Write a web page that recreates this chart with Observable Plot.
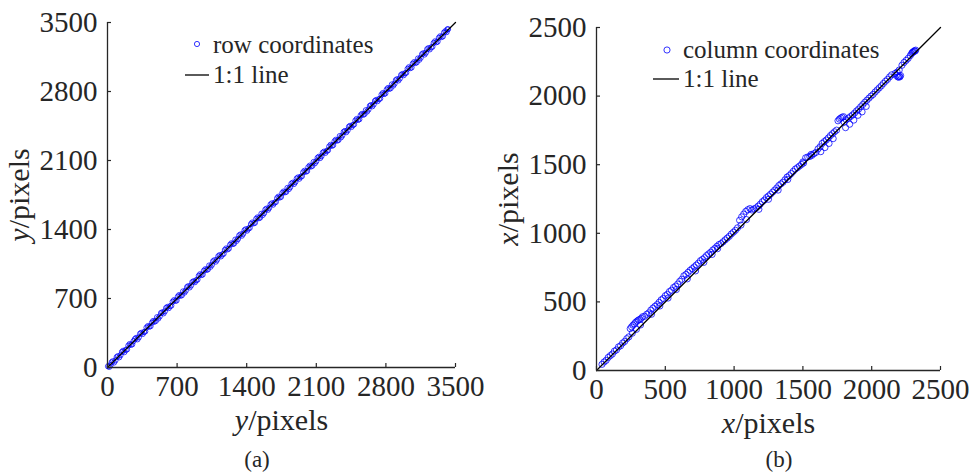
<!DOCTYPE html>
<html><head><meta charset="utf-8">
<script src="https://cdn.jsdelivr.net/npm/d3@7"></script>
<script src="https://cdn.jsdelivr.net/npm/@observablehq/plot@0.6"></script>
<style>
body{margin:0;background:#fff;}
#wrap{position:relative;width:970px;height:474px;font-family:"Liberation Serif","Times New Roman",serif;color:#262626;overflow:hidden;}
.cap{position:absolute;top:445px;font-size:23px;line-height:30px;transform:translateX(-50%);white-space:nowrap;}
</style></head><body>
<div id="wrap"></div>
<script>
// ---------- Panel (a): row coordinates ----------
const ticksA = [0, 700, 1400, 2100, 2800, 3500];
const lineA = [0, 3500];
const rowRef = [5,30,52,80,104,131,158,183,210,236,262,289,315,340,368,392,420,447,471,498,525,551,577,603,630,655,683,708,735,760,787,812,840,866,892,918,945,970,997,1023,1050,1075,1102,1128,1155,1180,1207,1233,1260,1286,1312,1338,1365,1390,1417,1443,1470,1496,1522,1548,1575,1600,1627,1653,1680,1706,1732,1758,1785,1810,1837,1863,1890,1916,1942,1968,1995,2020,2047,2073,2100,2126,2152,2178,2205,2230,2257,2283,2310,2336,2362,2388,2415,2440,2467,2493,2520,2546,2572,2598,2625,2650,2677,2703,2730,2756,2782,2808,2835,2860,2887,2913,2940,2966,2992,3018,3045,3070,3097,3123,3150,3176,3202,3228,3255,3280,3307,3333,3360,3385,3410,3425];
const rowMeas = [12,24,63,72,115,125,170,178,222,230,268,301,306,352,360,405,414,455,464,510,518,560,570,615,622,667,676,720,728,772,779,825,832,875,885,930,938,982,990,1035,1042,1088,1094,1140,1147,1192,1198,1245,1252,1298,1304,1350,1357,1402,1409,1455,1462,1508,1514,1560,1566,1612,1620,1665,1672,1718,1724,1770,1777,1822,1829,1875,1882,1928,1934,1980,1986,2032,2039,2085,2092,2138,2144,2190,2197,2242,2249,2295,2302,2348,2354,2400,2406,2452,2459,2505,2512,2558,2564,2610,2617,2662,2669,2715,2722,2768,2774,2820,2827,2872,2879,2925,2932,2978,2984,3030,3037,3082,3089,3135,3142,3188,3194,3240,3247,3292,3299,3345,3352,3398,3402,3432];
const rowRef2 = [18,42,66,92,118,145,170,197,223,249,276,302,328,354,380,406,433,459,485,511,538,564,590,616,642,669,695,721,748,774,800,826,853,879,905,931,957,984,1010,1036,1062,1089,1115,1141,1168,1194,1220,1246,1273,1299,1325,1351,1378,1404,1430,1456,1483,1509,1535,1561,1588,1614,1640,1666,1693,1719,1745,1771,1798,1824,1850,1876,1903,1929,1955,1981,2008,2034,2060,2086,2113,2139,2165,2191,2218,2244,2270,2296,2323,2349,2375,2401,2428,2454,2480,2506,2533,2559,2585,2611,2638,2664,2690,2716,2743,2769,2795,2821,2848,2874,2900,2926,2953,2979,3005,3031,3058,3084,3110,3136,3163,3189,3215,3241,3268,3294,3320,3346,3373,3398,3418];
const rowMeas2 = [6,53,50,105,103,158,156,184,238,235,289,286,343,340,366,420,419,472,471,497,552,549,604,602,628,683,680,735,733,760,815,812,866,865,891,946,943,997,996,1022,1077,1074,1129,1127,1154,1208,1206,1260,1258,1285,1340,1337,1392,1389,1416,1471,1468,1523,1521,1547,1602,1600,1654,1652,1679,1733,1731,1785,1783,1810,1865,1862,1917,1915,1941,1996,1993,2048,2046,2072,2127,2125,2179,2177,2204,2259,2256,2310,2308,2335,2390,2387,2442,2440,2466,2521,2518,2573,2571,2597,2653,2650,2704,2702,2729,2784,2781,2835,2833,2860,2915,2912,2967,2965,2991,3046,3043,3098,3096,3122,3178,3175,3229,3227,3254,3309,3306,3360,3359,3412,3430];

// ---------- Panel (b): column coordinates ----------
const ticksB = [0, 500, 1000, 1500, 2000, 2500];
const lineB = [0, 2500];
const colRef = [40,55,70,85,100,115,130,145,160,175,190,205,220,235,
  245,255,265,275,285,295,305,315,325,335,260,290,320,
  350,365,380,395,410,425,440,455,470,485,500,515,530,545,560,575,590,605,620,400,460,520,580,
  635,650,665,680,695,710,725,740,755,770,785,800,815,830,845,860,875,890,660,720,780,840,880,
  905,920,935,950,965,980,995,1010,1025,
  1040,1055,1070,1085,1100,1115,1050,1090,
  1130,1145,1160,1175,1190,1205,1220,1235,1250,1265,1280,1295,1310,1325,1340,1355,1370,1385,1400,1415,1430,1445,1180,1250,1320,1390,
  1460,1475,1490,1505,1520,1535,1550,1565,1580,1595,1500,1560,
  1610,1625,1640,1655,1670,1685,1700,1715,1730,1745,1630,1660,1690,1720,
  1755,1765,1775,1785,1795,
  1800,1815,1830,1845,1860,1875,1890,1905,1920,1935,1950,1965,1980,1995,2010,2025,2040,2055,2070,2085,2100,2115,2130,2145,1810,1840,1870,1900,1930,1960,
  2170,2180,2190,2195,2200,2205,2210,2185,2200,
  2220,2235,2250,2265,2280,2290,2295,2300,2305,2310,2315,2320];
const colMeas = [45,62,74,95,108,120,141,150,172,180,200,212,232,245,
  305,318,330,340,352,360,368,372,380,392,272,300,332,
  395,410,420,440,455,468,480,497,515,525,545,555,575,585,605,615,630,650,665,410,470,528,590,
  690,700,715,730,742,755,768,782,800,810,822,838,850,862,878,890,905,918,668,726,788,846,888,
  925,938,952,965,978,995,1008,1022,1040,
  1095,1120,1140,1160,1172,1180,1060,1100,
  1170,1178,1185,1198,1212,1230,1242,1260,1272,1285,1300,1315,1330,1348,1360,1372,1390,1410,1420,1435,1452,1468,1175,1248,1315,1392,
  1478,1490,1502,1512,1550,1556,1560,1568,1580,1590,1520,1575,
  1615,1630,1655,1668,1680,1695,1712,1726,1740,1752,1595,1625,1655,1690,
  1820,1832,1840,1846,1850,
  1810,1828,1840,1850,1862,1876,1892,1905,1922,1938,1955,1970,1985,2000,2012,2030,2045,2060,2075,2092,2108,2122,2140,2155,1770,1795,1825,1860,1885,1925,
  2165,2150,2140,2138,2145,2140,2150,2175,2190,
  2225,2245,2260,2275,2295,2310,2318,2320,2325,2330,2328,2335];

const INK = "#262626";
const FONT = '"Liberation Serif","Times New Roman",serif';

function panel({sets, ticks, line, left, mL, mR, mT, mB, W, H, varName, legendText, leg, r}) {
  const pts = sets.flatMap(([ref, meas]) => ref.map((v, i) => ({x: v, y: meas[i]})));
  const oneToOne = line.map(v => ({x: v, y: v}));
  const innerW = W - mL - mR, innerH = H - mT - mB;
  const dom = [line[0], line[1]];
  const fmt = d => String(d);
  const svg = Plot.plot({
    width: W, height: H,
    marginLeft: mL, marginRight: mR, marginTop: mT, marginBottom: mB,
    style: {fontFamily: FONT, fontSize: "29px", color: INK, background: "transparent", overflow: "visible"},
    x: {domain: dom},
    y: {domain: dom},
    marks: [
      Plot.dot(pts, {x: "x", y: "y", r, stroke: "#0000ff", strokeWidth: 0.85, strokeOpacity: 0.9, fill: "none"}),
      Plot.line(oneToOne, {x: "x", y: "y", stroke: "#000", strokeWidth: 1.3}),
      Plot.ruleX([line[0]], {stroke: INK, strokeWidth: 1.3}),
      Plot.ruleY([line[0]], {stroke: INK, strokeWidth: 1.3}),
      Plot.tickX(ticks, {x: d => d, insetTop: innerH - 4, stroke: INK, strokeWidth: 1.2}),
      Plot.tickY(ticks, {y: d => d, insetRight: innerW - 4, stroke: INK, strokeWidth: 1.2}),
      Plot.axisX({ticks, tickSize: 0, tickPadding: 8, tickFormat: fmt, label: varName + "/pixels", labelAnchor: "center", labelArrow: "none", labelOffset: 62}),
      Plot.axisY({ticks, tickSize: 0, tickPadding: 10, tickFormat: fmt, label: varName + "/pixels", labelAnchor: "center", labelArrow: "none", labelOffset: 100})
    ]
  });
  svg.style.position = "absolute";
  svg.style.left = left + "px";
  svg.style.top = "0px";
  const s = d3.select(svg);
  s.selectAll('g[aria-label$="axis label"] text').each(function() {
    const t = d3.select(this);
    t.text(null).attr("font-size", 30);
    t.append("tspan").attr("font-style", "italic").text(varName);
    t.append("tspan").text("/pixels");
  });
  // legend
  const g = s.append("g").attr("font-family", FONT).attr("font-size", 25).attr("fill", INK).attr("text-anchor", "start");
  g.append("circle").attr("cx", leg.cx).attr("cy", leg.cy).attr("r", r).attr("fill", "none").attr("stroke", "#0000ff").attr("stroke-width", 0.8);
  g.append("text").attr("x", leg.tx).attr("y", leg.b1).attr("text-anchor", "start").text(legendText);
  g.append("line").attr("x1", leg.lx1).attr("x2", leg.lx2).attr("y1", leg.ly).attr("y2", leg.ly).attr("stroke", "#000").attr("stroke-width", 1.3);
  g.append("text").attr("x", leg.tx).attr("y", leg.b2).attr("text-anchor", "start").text("1:1 line");
  return svg;
}

const wrap = document.getElementById("wrap");
wrap.appendChild(panel({sets: [[rowRef, rowMeas], [rowRef2, rowMeas2]], ticks: ticksA, line: lineA, left: 0,
  mL: 107, mR: 30, mT: 22, mB: 78, W: 485, H: 445, varName: "y", legendText: "row coordinates", r: 2.6,
  leg: {cx: 197, cy: 44, tx: 213, b1: 53, lx1: 185, lx2: 209, ly: 75, b2: 83}}));
wrap.appendChild(panel({sets: [[colRef, colMeas]], ticks: ticksB, line: lineB, left: 485,
  mL: 111, mR: 30, mT: 27, mB: 75, W: 485, H: 445, varName: "x", legendText: "column coordinates", r: 3.1,
  leg: {cx: 182, cy: 50, tx: 198, b1: 58, lx1: 168, lx2: 194, ly: 79, b2: 87}}));
const capA = document.createElement("div"); capA.className = "cap"; capA.style.left = "257px"; capA.textContent = "(a)";
const capB = document.createElement("div"); capB.className = "cap"; capB.style.left = "779px"; capB.textContent = "(b)";
wrap.appendChild(capA); wrap.appendChild(capB);
</script>
</body></html>
